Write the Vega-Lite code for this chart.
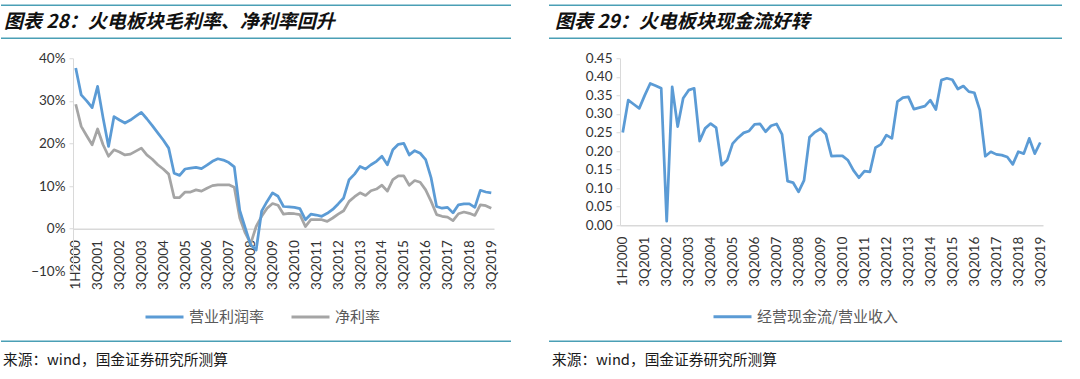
{
  "$schema": "https://vega.github.io/schema/vega-lite/v6.json",
  "padding": {"top": 4.25, "left": 0, "right": 0, "bottom": 0},
  "background": "white",
  "config": {
    "view": {"stroke": null},
    "axis": {"labelFont": "Lato", "labelFontSize": 13.5, "labelColor": "#333333", "domainColor": "#D9D9D9", "tickColor": "#D9D9D9", "grid": false},
    "legend": {"labelFont": "Noto Sans CJK SC", "labelFontSize": 15, "labelColor": "#595959", "symbolType": "stroke", "symbolSize": 1444, "symbolStrokeWidth": 3, "labelOffset": 4, "columnPadding": 20, "padding": 0, "direction": "horizontal", "title": null}
  },
  "datasets": {
    "hr": [{"pos": 0}, {"pos": 1}],
    "fr": [{"pos": 1}],
    "q": [
      {"p": "1H2000", "opm": 0.377, "npm": 0.292, "cf": 0.250},
      {"p": "4Q2000", "opm": 0.314, "npm": 0.240, "cf": 0.337},
      {"p": "1Q2001", "opm": 0.300, "npm": 0.218, "cf": 0.326},
      {"p": "2Q2001", "opm": 0.284, "npm": 0.197, "cf": 0.315},
      {"p": "3Q2001", "opm": 0.334, "npm": 0.234, "cf": 0.350},
      {"p": "4Q2001", "opm": 0.260, "npm": 0.197, "cf": 0.382},
      {"p": "1Q2002", "opm": 0.193, "npm": 0.170, "cf": 0.376},
      {"p": "2Q2002", "opm": 0.263, "npm": 0.185, "cf": 0.369},
      {"p": "3Q2002", "opm": 0.255, "npm": 0.180, "cf": 0.011},
      {"p": "4Q2002", "opm": 0.248, "npm": 0.173, "cf": 0.373},
      {"p": "1Q2003", "opm": 0.255, "npm": 0.175, "cf": 0.266},
      {"p": "2Q2003", "opm": 0.264, "npm": 0.182, "cf": 0.342},
      {"p": "3Q2003", "opm": 0.273, "npm": 0.189, "cf": 0.364},
      {"p": "4Q2003", "opm": 0.258, "npm": 0.173, "cf": 0.369},
      {"p": "1Q2004", "opm": 0.242, "npm": 0.163, "cf": 0.227},
      {"p": "2Q2004", "opm": 0.225, "npm": 0.150, "cf": 0.261},
      {"p": "3Q2004", "opm": 0.208, "npm": 0.140, "cf": 0.274},
      {"p": "4Q2004", "opm": 0.189, "npm": 0.128, "cf": 0.263},
      {"p": "1Q2005", "opm": 0.130, "npm": 0.073, "cf": 0.162},
      {"p": "2Q2005", "opm": 0.125, "npm": 0.073, "cf": 0.175},
      {"p": "3Q2005", "opm": 0.140, "npm": 0.086, "cf": 0.220},
      {"p": "4Q2005", "opm": 0.142, "npm": 0.086, "cf": 0.236},
      {"p": "1Q2006", "opm": 0.144, "npm": 0.091, "cf": 0.249},
      {"p": "2Q2006", "opm": 0.141, "npm": 0.088, "cf": 0.254},
      {"p": "3Q2006", "opm": 0.149, "npm": 0.095, "cf": 0.272},
      {"p": "4Q2006", "opm": 0.158, "npm": 0.101, "cf": 0.273},
      {"p": "1Q2007", "opm": 0.164, "npm": 0.103, "cf": 0.252},
      {"p": "2Q2007", "opm": 0.161, "npm": 0.103, "cf": 0.268},
      {"p": "3Q2007", "opm": 0.155, "npm": 0.103, "cf": 0.273},
      {"p": "4Q2007", "opm": 0.145, "npm": 0.097, "cf": 0.245},
      {"p": "1Q2008", "opm": 0.043, "npm": 0.025, "cf": 0.119},
      {"p": "2Q2008", "opm": 0.002, "npm": -0.010, "cf": 0.115},
      {"p": "3Q2008", "opm": -0.038, "npm": -0.035, "cf": 0.090},
      {"p": "4Q2008", "opm": -0.050, "npm": 0.005, "cf": 0.121},
      {"p": "1Q2009", "opm": 0.041, "npm": 0.029, "cf": 0.237},
      {"p": "2Q2009", "opm": 0.064, "npm": 0.048, "cf": 0.251},
      {"p": "3Q2009", "opm": 0.084, "npm": 0.059, "cf": 0.260},
      {"p": "4Q2009", "opm": 0.076, "npm": 0.055, "cf": 0.245},
      {"p": "1Q2010", "opm": 0.052, "npm": 0.034, "cf": 0.186},
      {"p": "2Q2010", "opm": 0.051, "npm": 0.036, "cf": 0.187},
      {"p": "3Q2010", "opm": 0.050, "npm": 0.035, "cf": 0.187},
      {"p": "4Q2010", "opm": 0.047, "npm": 0.033, "cf": 0.175},
      {"p": "1Q2011", "opm": 0.021, "npm": 0.005, "cf": 0.148},
      {"p": "2Q2011", "opm": 0.034, "npm": 0.021, "cf": 0.128},
      {"p": "3Q2011", "opm": 0.032, "npm": 0.021, "cf": 0.146},
      {"p": "4Q2011", "opm": 0.029, "npm": 0.021, "cf": 0.144},
      {"p": "1Q2012", "opm": 0.036, "npm": 0.017, "cf": 0.209},
      {"p": "2Q2012", "opm": 0.045, "npm": 0.025, "cf": 0.218},
      {"p": "3Q2012", "opm": 0.058, "npm": 0.034, "cf": 0.243},
      {"p": "4Q2012", "opm": 0.072, "npm": 0.042, "cf": 0.234},
      {"p": "1Q2013", "opm": 0.115, "npm": 0.064, "cf": 0.333},
      {"p": "2Q2013", "opm": 0.128, "npm": 0.075, "cf": 0.344},
      {"p": "3Q2013", "opm": 0.146, "npm": 0.084, "cf": 0.346},
      {"p": "4Q2013", "opm": 0.140, "npm": 0.078, "cf": 0.313},
      {"p": "1Q2014", "opm": 0.150, "npm": 0.089, "cf": 0.317},
      {"p": "2Q2014", "opm": 0.158, "npm": 0.093, "cf": 0.321},
      {"p": "3Q2014", "opm": 0.170, "npm": 0.102, "cf": 0.337},
      {"p": "4Q2014", "opm": 0.150, "npm": 0.088, "cf": 0.312},
      {"p": "1Q2015", "opm": 0.185, "npm": 0.115, "cf": 0.391},
      {"p": "2Q2015", "opm": 0.198, "npm": 0.124, "cf": 0.396},
      {"p": "3Q2015", "opm": 0.200, "npm": 0.124, "cf": 0.392},
      {"p": "4Q2015", "opm": 0.173, "npm": 0.102, "cf": 0.367},
      {"p": "1Q2016", "opm": 0.183, "npm": 0.113, "cf": 0.375},
      {"p": "2Q2016", "opm": 0.177, "npm": 0.109, "cf": 0.360},
      {"p": "3Q2016", "opm": 0.162, "npm": 0.091, "cf": 0.357},
      {"p": "4Q2016", "opm": 0.119, "npm": 0.064, "cf": 0.310},
      {"p": "1Q2017", "opm": 0.052, "npm": 0.033, "cf": 0.186},
      {"p": "2Q2017", "opm": 0.048, "npm": 0.029, "cf": 0.198},
      {"p": "3Q2017", "opm": 0.050, "npm": 0.027, "cf": 0.191},
      {"p": "4Q2017", "opm": 0.037, "npm": 0.019, "cf": 0.189},
      {"p": "1Q2018", "opm": 0.056, "npm": 0.035, "cf": 0.184},
      {"p": "2Q2018", "opm": 0.058, "npm": 0.039, "cf": 0.164},
      {"p": "3Q2018", "opm": 0.058, "npm": 0.036, "cf": 0.198},
      {"p": "4Q2018", "opm": 0.050, "npm": 0.031, "cf": 0.193},
      {"p": "1Q2019", "opm": 0.090, "npm": 0.056, "cf": 0.234},
      {"p": "2Q2019", "opm": 0.086, "npm": 0.054, "cf": 0.193},
      {"p": "3Q2019", "opm": 0.084, "npm": 0.048, "cf": 0.223}
    ]
  },
  "spacing": 0,
  "resolve": {"scale": {"color": "independent"}, "legend": {"color": "independent"}},
  "vconcat": [
    {
      "spacing": 36,
      "hconcat": [
        {
          "width": 438, "height": 45.5,
          "data": {"name": "hr"},
          "layer": [
            {"mark": {"type": "rule", "color": "#4A9FB5", "strokeWidth": 1.5},
             "encoding": {
               "y": {"field": "pos", "type": "quantitative", "scale": {"domain": [-0.3788, 1], "nice": false, "zero": false}, "axis": null},
               "x": {"datum": -0.16438, "type": "quantitative", "scale": {"domain": [0, 1], "nice": false, "zero": false}, "axis": null},
               "x2": {"datum": 1}}},
            {"data": {"values": [{"t": "图表 28：火电板块毛利率、净利率回升"}]},
             "mark": {"type": "text", "align": "left", "baseline": "middle", "font": "Noto Sans CJK SC", "fontSize": 19, "fontWeight": "bold", "fontStyle": "italic", "dx": 3, "color": "#111111"},
             "encoding": {"text": {"field": "t"}, "x": {"datum": -0.16438, "type": "quantitative", "axis": null}, "y": {"datum": 0.5, "type": "quantitative", "axis": null}}}
          ]
        },
        {
          "width": 440, "height": 45.5,
          "data": {"name": "hr"},
          "layer": [
            {"mark": {"type": "rule", "color": "#4A9FB5", "strokeWidth": 1.5},
             "encoding": {
               "y": {"field": "pos", "type": "quantitative", "scale": {"domain": [-0.3788, 1], "nice": false, "zero": false}, "axis": null},
               "x": {"datum": -0.1659, "type": "quantitative", "scale": {"domain": [0, 1], "nice": false, "zero": false}, "axis": null},
               "x2": {"datum": 1}}},
            {"data": {"values": [{"t": "图表 29：火电板块现金流好转"}]},
             "mark": {"type": "text", "align": "left", "baseline": "middle", "font": "Noto Sans CJK SC", "fontSize": 19, "fontWeight": "bold", "fontStyle": "italic", "dx": 6, "color": "#111111"},
             "encoding": {"text": {"field": "t"}, "x": {"datum": -0.1659, "type": "quantitative", "axis": null}, "y": {"datum": 0.5, "type": "quantitative", "axis": null}}}
          ]
        }
      ]
    },
    {
      "spacing": 49,
      "resolve": {"scale": {"color": "independent"}, "legend": {"color": "independent"}},
      "hconcat": [
        {
          "width": 421, "height": 213,
          "data": {"name": "q"},
          "encoding": {
            "x": {"field": "p", "type": "ordinal", "sort": null, "scale": {"type": "point", "padding": 0.5},
                  "axis": {"title": null, "values": ["1H2000","3Q2001","3Q2002","3Q2003","3Q2004","3Q2005","3Q2006","3Q2007","3Q2008","3Q2009","3Q2010","3Q2011","3Q2012","3Q2013","3Q2014","3Q2015","3Q2016","3Q2017","3Q2018","3Q2019"],
                           "labelAngle": -90, "ticks": false, "labelPadding": 11, "offset": -42.6, "domainWidth": 1.5}}
          },
          "layer": [
            {"mark": {"type": "line", "strokeWidth": 2.75, "strokeJoin": "round"},
             "encoding": {
               "y": {"field": "npm", "type": "quantitative", "scale": {"domain": [-0.1, 0.4], "nice": false},
                     "axis": {"title": null, "values": [-0.1, 0, 0.1, 0.2, 0.3, 0.4], "format": ".0%", "tickSize": 4, "labelPadding": 4, "minExtent": 72, "maxExtent": 72}},
               "color": {"datum": "净利率", "scale": {"domain": ["营业利润率", "净利率"], "range": ["#5B9BD5", "#A5A5A5"]},
                         "legend": {"orient": "none", "legendX": 71, "legendY": 238}}
             }},
            {"mark": {"type": "line", "strokeWidth": 2.75, "strokeJoin": "round"},
             "encoding": {
               "y": {"field": "opm", "type": "quantitative"},
               "color": {"datum": "营业利润率"}
             }}
          ]
        },
        {
          "width": 423, "height": 167,
          "data": {"name": "q"},
          "mark": {"type": "line", "strokeWidth": 2.75, "strokeJoin": "round"},
          "encoding": {
            "x": {"field": "p", "type": "ordinal", "sort": null, "scale": {"type": "point", "padding": 0.5},
                  "axis": {"title": null, "values": ["1H2000","3Q2001","3Q2002","3Q2003","3Q2004","3Q2005","3Q2006","3Q2007","3Q2008","3Q2009","3Q2010","3Q2011","3Q2012","3Q2013","3Q2014","3Q2015","3Q2016","3Q2017","3Q2018","3Q2019"],
                           "labelAngle": -90, "ticks": false, "labelPadding": 11, "domainWidth": 1.5}},
            "y": {"field": "cf", "type": "quantitative", "scale": {"domain": [0, 0.45], "nice": false},
                  "axis": {"title": null, "values": [0, 0.05, 0.1, 0.15, 0.2, 0.25, 0.3, 0.35, 0.4, 0.45], "format": ".2f", "tickSize": 4, "labelPadding": 4, "minExtent": 73, "maxExtent": 73}},
            "color": {"datum": "经营现金流/营业收入", "scale": {"domain": ["经营现金流/营业收入"], "range": ["#5B9BD5"]},
                      "legend": {"orient": "none", "legendX": 92, "legendY": 238}}
          }
        }
      ]
    },
    {
      "spacing": 36,
      "hconcat": [
        {
          "width": 438, "height": 46,
          "data": {"name": "fr"},
          "layer": [
            {"mark": {"type": "rule", "color": "#4A9FB5", "strokeWidth": 1.5},
             "encoding": {
               "y": {"field": "pos", "type": "quantitative", "scale": {"domain": [0, 1.5333], "nice": false, "zero": false}, "axis": null},
               "x": {"datum": -0.16438, "type": "quantitative", "scale": {"domain": [0, 1], "nice": false, "zero": false}, "axis": null},
               "x2": {"datum": 1}}},
            {"data": {"values": [{"t": "来源：wind，国金证券研究所测算"}]},
             "mark": {"type": "text", "align": "left", "baseline": "middle", "font": "Noto Sans CJK SC", "fontSize": 14.7, "dx": 2, "color": "#1a1a1a"},
             "encoding": {"text": {"field": "t"}, "x": {"datum": -0.16438, "type": "quantitative", "axis": null}, "y": {"datum": 0.3333, "type": "quantitative", "axis": null}}}
          ]
        },
        {
          "width": 440, "height": 46,
          "data": {"name": "fr"},
          "layer": [
            {"mark": {"type": "rule", "color": "#4A9FB5", "strokeWidth": 1.5},
             "encoding": {
               "y": {"field": "pos", "type": "quantitative", "scale": {"domain": [0, 1.5333], "nice": false, "zero": false}, "axis": null},
               "x": {"datum": -0.1659, "type": "quantitative", "scale": {"domain": [0, 1], "nice": false, "zero": false}, "axis": null},
               "x2": {"datum": 1}}},
            {"data": {"values": [{"t": "来源：wind，国金证券研究所测算"}]},
             "mark": {"type": "text", "align": "left", "baseline": "middle", "font": "Noto Sans CJK SC", "fontSize": 14.7, "dx": 3, "color": "#1a1a1a"},
             "encoding": {"text": {"field": "t"}, "x": {"datum": -0.1659, "type": "quantitative", "axis": null}, "y": {"datum": 0.3333, "type": "quantitative", "axis": null}}}
          ]
        }
      ]
    }
  ]
}
